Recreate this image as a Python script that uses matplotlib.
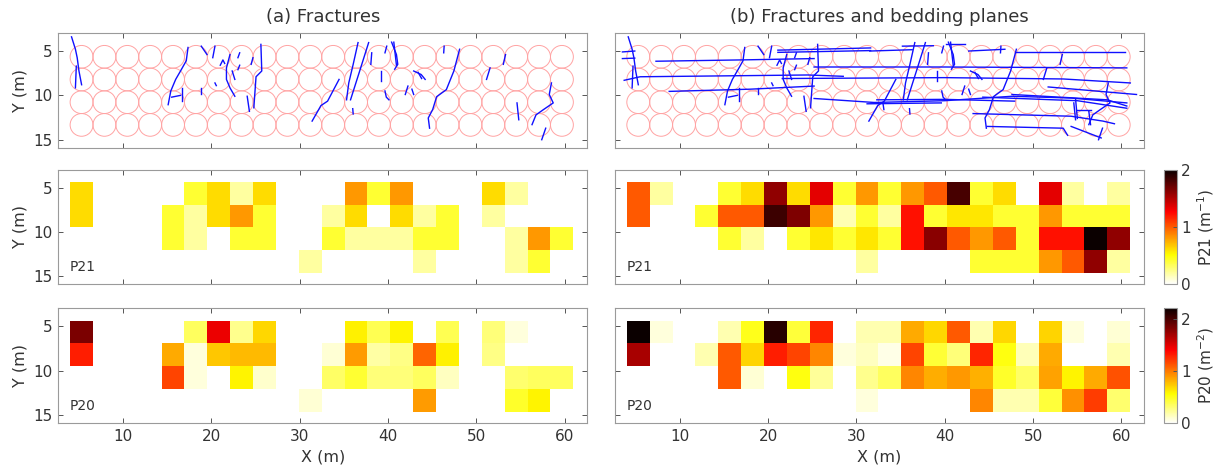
import matplotlib
matplotlib.use("Agg")
import matplotlib.pyplot as plt
import numpy as np
from matplotlib.patches import Ellipse

_ = np.nan

# grid of sampling circles / cells (4 rows x 22 columns)
N_ROWS, N_COLS = 4, 22
X0, DX = 4.0, 2.59
Y0, DY = 4.37, 2.56

# P21 (m^-1), rows top to bottom
P21_A = [
    [.61, _, _, _, _, .41, .61, .19, .61, _, _, _, .82, .41, .82, _, _, _, .61, .19, _, _],
    [.61, _, _, _, .41, .19, .61, .82, .41, _, _, .19, .61, _, .61, .19, .41, _, .19, _, _, _],
    [_, _, _, _, .41, .19, _, .41, .41, _, _, .41, .19, .19, .19, .41, .41, _, _, .19, .82, .41],
    [_, _, _, _, _, _, _, _, _, _, .19, _, _, _, _, .19, _, _, _, .19, .41, _],
]
P21_B = [
    [1.0, .19, _, _, .41, .61, 1.6, .61, 1.35, .41, .82, .41, .82, 1.0, 1.82, .41, .61, _, 1.35, .19, _, .19],
    [1.0, _, _, .41, 1.0, 1.0, 1.85, 1.65, .82, .15, .41, .19, 1.22, .41, .58, .58, .41, .41, .82, .41, .41, .41],
    [_, _, _, _, .41, .19, _, .41, .58, .41, .58, .41, 1.22, 1.62, 1.0, .82, 1.0, .41, 1.22, 1.22, 2.0, 1.6],
    [_, _, _, _, _, _, _, _, _, _, .19, _, _, _, _, .41, .41, .41, .82, 1.0, 1.6, .19],
]
# P20 (m^-2)
P20_A = [
    [1.83, _, _, _, _, .36, 1.46, .25, .69, _, _, _, .61, .38, .6, _, .38, _, .3, .08, _, _],
    [1.3, _, _, _, .84, .08, .74, .79, .79, _, _, .1, .89, .2, .27, 1.07, .61, _, .27, _, _, _],
    [_, _, _, _, 1.17, .08, _, .6, .12, _, _, .34, .45, .3, .3, .36, .14, _, _, .32, .36, .36],
    [_, _, _, _, _, _, _, _, _, _, .1, _, _, _, _, .89, _, _, _, .47, .6, _],
]
P20_B = [
    [2.2, .08, _, _, .18, .5, 2.1, .43, 1.28, _, .18, .18, .84, .69, 1.1, .18, .69, _, .7, .08, _, .1],
    [1.68, _, _, .18, 1.1, .7, 1.3, 1.17, .96, .08, .14, .06, 1.17, .44, .3, 1.28, .53, .16, .84, _, _, .18],
    [_, _, _, _, 1.1, .1, _, .53, .23, _, .25, .36, .96, .83, .9, .82, .47, .34, .86, .6, .84, 1.13],
    [_, _, _, _, _, _, _, _, _, _, .08, _, _, _, _, .96, .18, .18, .43, .92, 1.2, .32],
]
P21_MAX, P20_MAX = 2.0, 2.2

# fracture traces (x, y) in m
FRACTURES = [
    [(4.16, 3.4), (4.6, 4.8), (4.8, 5.75), (5.0, 7.25), (5.3, 8.8)],
    [(4.7, 6.7), (4.6, 9.15)],
    [(17.35, 4.6), (17.15, 6.1), (16.5, 7.25), (15.95, 8.2), (15.4, 9.5), (15.1, 11.05)],
    [(16.7, 9.15), (16.7, 10.65)],
    [(15.5, 10.2), (16.5, 10.0)],
    [(18.85, 4.45), (19.5, 5.4)],
    [(20.4, 4.45), (20.15, 5.75)],
    [(21.0, 6.6), (21.3, 6.0), (21.5, 6.4)],
    [(22.1, 5.4), (21.7, 6.9), (21.7, 8.2), (22.1, 9.15), (22.65, 10.1)],
    [(23.2, 5.2), (23.0, 5.75)],
    [(23.2, 6.6), (23.0, 7.1)],
    [(22.35, 7.25), (22.65, 8.2)],
    [(20.4, 8.6), (20.55, 8.9)],
    [(24.7, 5.75), (24.5, 6.5)],
    [(25.6, 4.25), (25.7, 7.25), (25.05, 7.9), (24.8, 11.4)],
    [(24.05, 10.1), (24.3, 11.8)],
    [(18.85, 9.15), (18.85, 9.9)],
    [(34.45, 8.2), (33.15, 10.65), (32.4, 11.15), (31.4, 12.9)],
    [(36.6, 4.05), (36.05, 6.5), (35.55, 8.6), (35.3, 10.5)],
    [(37.8, 4.05), (36.85, 7.05), (35.75, 10.5)],
    [(38.15, 5.2), (38.05, 6.5)],
    [(36.0, 11.5), (36.05, 12.1)],
    [(39.85, 4.45), (39.65, 5.2)],
    [(40.4, 4.0), (40.95, 5.4), (41.1, 6.5), (40.75, 7.05)],
    [(40.65, 4.0), (40.95, 6.6)],
    [(39.15, 7.25), (39.15, 8.4)],
    [(39.65, 9.5), (39.8, 10.2), (40.1, 10.5)],
    [(42.25, 8.95), (41.95, 9.9)],
    [(42.7, 9.3), (42.9, 9.9)],
    [(42.9, 7.25), (43.75, 7.65), (44.2, 8.2)],
    [(43.4, 7.4), (43.8, 8.1)],
    [(46.35, 4.45), (46.3, 5.2)],
    [(48.1, 4.8), (47.45, 7.25), (46.6, 9.35), (45.5, 10.15), (45.05, 11.6), (44.55, 12.55), (44.7, 13.7)],
    [(53.3, 5.4), (53.05, 6.5)],
    [(51.55, 6.9), (51.15, 8.2)],
    [(54.6, 10.85), (54.8, 12.75)],
    [(58.5, 8.6), (58.25, 9.9), (58.7, 10.85), (57.6, 11.6), (56.75, 12.2), (56.3, 13.3)],
    [(57.85, 13.7), (57.4, 15.0)],
]

# bedding plane traces, panel (b) only
BEDDING = [
    [(3.5, 5.1), (4.9, 5.0)],
    [(3.5, 5.85), (4.9, 5.8)],
    [(7.3, 6.15), (17.0, 6.0), (25.2, 5.85)],
    [(21.1, 4.9), (31.6, 4.65)],
    [(21.1, 5.15), (31.6, 4.95)],
    [(35.2, 4.45), (38.7, 4.4)],
    [(40.1, 4.25), (42.3, 4.25)],
    [(42.7, 5.0), (46.8, 4.8)],
    [(31.5, 5.0), (36.3, 4.85)],
    [(48.1, 5.1), (60.4, 5.1)],
    [(25.2, 6.8), (40.0, 6.8), (60.6, 6.9)],
    [(3.7, 8.3), (5.5, 7.9), (24.5, 7.7), (28.5, 7.85)],
    [(21.6, 8.1), (40.0, 8.0), (53.4, 8.15), (61.0, 8.6)],
    [(8.8, 9.55), (18.0, 9.3), (25.2, 8.95)],
    [(25.2, 10.35), (32.0, 10.8), (40.0, 10.6), (47.6, 10.1), (54.3, 10.3), (60.6, 10.85)],
    [(31.2, 10.95), (39.6, 10.85)],
    [(32.3, 10.5), (40.0, 10.45), (47.9, 10.65)],
    [(51.7, 9.05), (61.7, 9.9)],
    [(47.6, 9.9), (58.4, 10.5), (60.6, 11.2)],
    [(44.3, 10.2), (55.0, 10.6), (60.6, 11.45)],
    [(43.2, 12.05), (54.3, 12.35), (57.9, 12.9), (59.2, 13.2)],
    [(44.8, 13.5), (53.4, 13.7), (53.9, 14.5)],
    [(54.3, 13.5), (57.7, 14.8)],
    [(54.8, 10.4), (55.0, 12.6)],
    [(56.3, 11.8), (56.5, 13.3)],
    [(55.0, 11.6), (56.5, 11.6)],
    [(33.0, 10.9), (33.1, 11.6)],
]

TEXT = "#333333"
FRAME = "#9a9a9a"
plt.rcParams["font.family"] = "DejaVu Sans"
plt.rcParams["text.color"] = TEXT

W, H = 1216, 472
fig = plt.figure(figsize=(W / 100, H / 100), dpi=100)


def px_axes(x0, y0, x1, y1):
    return fig.add_axes([x0 / W, 1 - y1 / H, (x1 - x0) / W, (y1 - y0) / H])


def style(ax, xlabels, ylabels):
    ax.set_xlim(2.65, 62.57)
    ax.set_ylim(15.9, 3.0)
    ax.set_xticks([10, 20, 30, 40, 50, 60])
    ax.set_yticks([5, 10, 15])
    ax.tick_params(direction="in", top=True, right=True, length=3.5,
                   width=0.7, color="#555555", labelsize=11, labelcolor=TEXT,
                   labelbottom=xlabels, labelleft=ylabels, pad=4)
    for s in ax.spines.values():
        s.set_color(FRAME)
        s.set_linewidth(0.8)
    if ylabels:
        ax.set_ylabel("Y (m)", fontsize=11.5, color=TEXT, labelpad=4)
    if xlabels:
        ax.set_xlabel("X (m)", fontsize=11.5, color=TEXT, labelpad=4)


def draw_traces(ax, traces):
    for j in range(N_ROWS):
        for i in range(N_COLS):
            ax.add_patch(Ellipse((X0 + DX * (i + 0.5), Y0 + DY * (j + 0.5)), DX, DY,
                                 fill=False, edgecolor="#ffa3a3", lw=0.7))
    for tr in traces:
        xs, ys = zip(*tr)
        ax.plot(xs, ys, color="#1010ff", lw=1.0)


def draw_map(ax, vals, vmax, label):
    xe = X0 + DX * np.arange(N_COLS + 1)
    ye = Y0 + DY * np.arange(N_ROWS + 1)
    m = ax.pcolormesh(xe, ye, np.ma.masked_invalid(np.array(vals)),
                      cmap="hot_r", vmin=0, vmax=vmax, shading="flat")
    ax.text(4.0, 13.95, label, fontsize=10, color=TEXT, ha="left", va="center")
    return m


cols = [(58.2, 587.4), (614.9, 1144.2)]
rows = [(33.3, 147.7), (170, 284), (308.3, 423.3)]

ax_a0 = px_axes(cols[0][0], rows[0][0], cols[0][1], rows[0][1])
ax_b0 = px_axes(cols[1][0], rows[0][0], cols[1][1], rows[0][1])
draw_traces(ax_a0, FRACTURES)
draw_traces(ax_b0, FRACTURES + BEDDING)
style(ax_a0, False, True)
style(ax_b0, False, False)
ax_a0.set_title("(a) Fractures", fontsize=13, color=TEXT, pad=8)
ax_b0.set_title("(b) Fractures and bedding planes", fontsize=13, color=TEXT, pad=8)

maps = [(P21_A, P21_B, P21_MAX, "P21", "P21 (m$^{-1}$)"),
        (P20_A, P20_B, P20_MAX, "P20", "P20 (m$^{-2}$)")]
for r, (va, vb, vmax, lab, cblab) in enumerate(maps, start=1):
    last = r == 2
    ax_a = px_axes(cols[0][0], rows[r][0], cols[0][1], rows[r][1])
    ax_b = px_axes(cols[1][0], rows[r][0], cols[1][1], rows[r][1])
    draw_map(ax_a, va, vmax, lab)
    mb = draw_map(ax_b, vb, vmax, lab)
    style(ax_a, last, True)
    style(ax_b, last, False)
    cax = px_axes(1164, rows[r][0], 1177, rows[r][1])
    cb = fig.colorbar(mb, cax=cax, ticks=[0, 1, 2])
    cb.outline.set_edgecolor(FRAME)
    cb.outline.set_linewidth(0.8)
    cax.tick_params(direction="in", length=3, width=0.7, color="#555555",
                    labelsize=11, labelcolor=TEXT, pad=3)
    cb.set_label(cblab, fontsize=11, color=TEXT, labelpad=3)

fig.savefig("out.png", dpi=100)
